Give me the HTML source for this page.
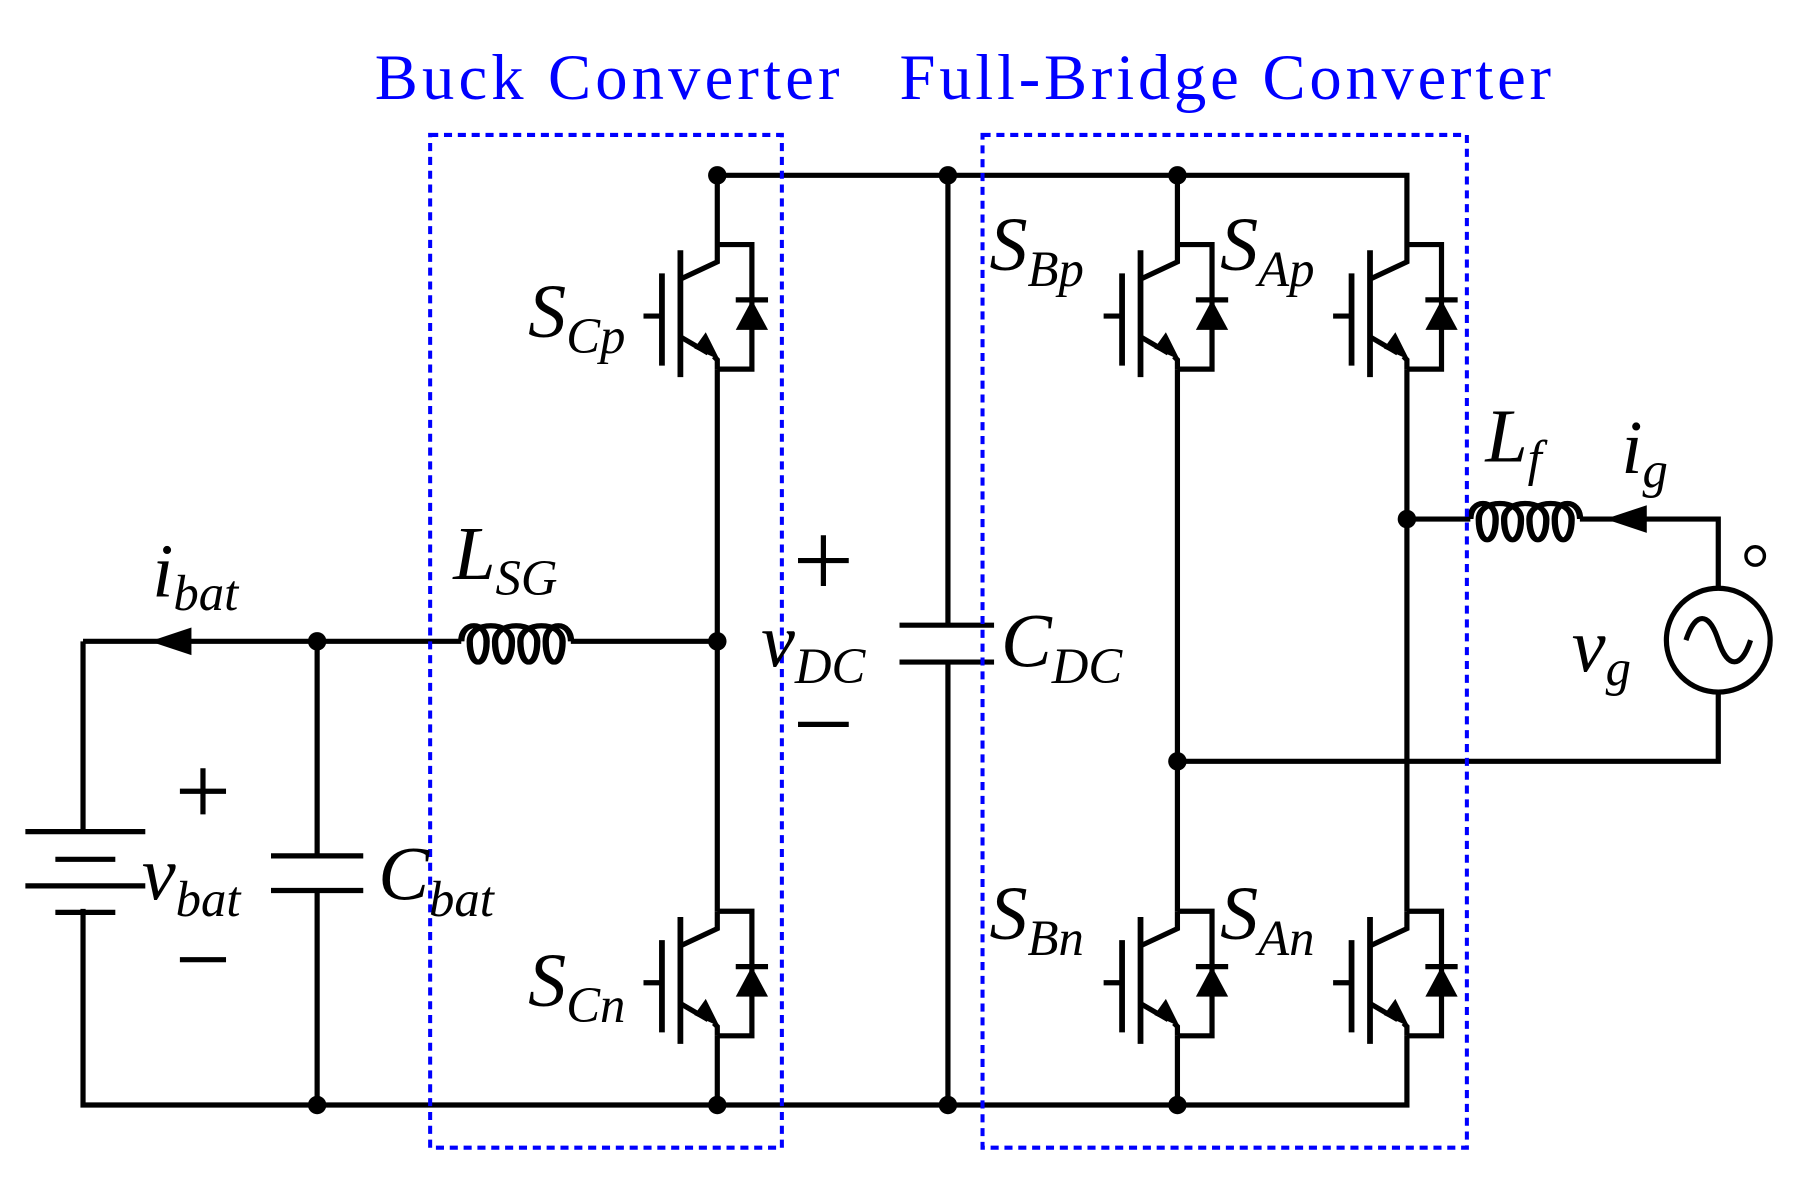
<!DOCTYPE html>
<html><head><meta charset="utf-8"><style>
html,body{margin:0;padding:0;background:#fff;}
svg{display:block;}
text{font-family:"Liberation Serif",serif;}
.l{font-style:italic;fill:#000;}
</style></head><body>
<svg width="1799" height="1180" viewBox="0 0 1560 1023" preserveAspectRatio="none" xmlns="http://www.w3.org/2000/svg">
<defs>
<g id="sw" stroke="#000" stroke-width="4.5" fill="none">
  <path d="M0,0 V15 L-32,30"/>
  <path d="M-32,80 L-8,94"/>
  <polygon points="2,100 -20,90 -10,76" fill="#000" stroke="none"/>
  <path d="M-3,97 L0,100 V108"/>
  <line x1="-32" y1="5" x2="-32" y2="115" stroke-width="5"/>
  <line x1="-48" y1="25" x2="-48" y2="105" stroke-width="5"/>
  <line x1="-64" y1="62" x2="-48" y2="62"/>
  <path d="M0,0 H30 V108 H0"/>
  <line x1="16" y1="48" x2="44" y2="48"/>
  <polygon points="30,48 16,74 44,74" fill="#000" stroke="none"/>
</g>
<g id="coil" fill="none" stroke="#000" stroke-width="4.5">
  <path d="M0,0 C0,-18 18,-18 18,0 C18,24 6,24 6,0 C6,-18 36,-18 36,0 C36,24 24,24 24,0 C24,-18 54,-18 54,0 C54,24 42,24 42,0 C42,-18 72,-18 72,0 C72,24 60,24 60,0 C60,-18 78,-18 78,0"/>
</g>
</defs>
<g stroke="#000" stroke-width="4.5" fill="none">
  <path d="M622,152 H1220 V212"/>
  <path d="M72,556 V721"/><path d="M72,788 V958 H1220 V898"/>
  <path d="M72,556 H400"/><path d="M495,556 H622"/>
  <path d="M622,152 V212"/><path d="M622,320 V790"/><path d="M622,898 V958"/>
  <path d="M1021,152 V212"/><path d="M1021,320 V790"/><path d="M1021,898 V958"/>
  <path d="M1220,320 V790"/>
  <path d="M275,556 V742"/><path d="M275,772 V958"/>
  <path d="M822,152 V542"/><path d="M822,574 V958"/>
  <path d="M1220,450 H1275"/><path d="M1370,450 H1490 V510"/><path d="M1490,600 V660 H1021"/>
  <line x1="22" y1="721" x2="126" y2="721"/>
  <line x1="48" y1="745" x2="100" y2="745"/>
  <line x1="22" y1="768" x2="126" y2="768"/>
  <line x1="48" y1="791" x2="100" y2="791"/>
  <line x1="235" y1="742" x2="315" y2="742"/>
  <line x1="235" y1="772" x2="315" y2="772"/>
  <line x1="780" y1="542" x2="862" y2="542"/>
  <line x1="780" y1="574" x2="862" y2="574"/>
  <circle cx="1490" cy="555" r="45"/>
  <path d="M1462,555 C1470,530 1482,530 1490,555 C1498,580 1510,580 1518,555"/>
  <circle cx="1522" cy="482" r="8" stroke-width="3"/>
  <path d="M156,686 H196 M176,666 V706"/><line x1="156" y1="832" x2="196" y2="832"/>
  <path d="M692,486 H736 M714,464 V508"/><line x1="692" y1="628" x2="736" y2="628"/>
</g>
<use href="#coil" transform="translate(400,556) scale(1.22,1)"/>
<use href="#coil" transform="translate(1275,450) scale(1.22,1)"/>
<polygon points="130,556 166,544 166,568" fill="#000"/>
<polygon points="1392,450 1428,438 1428,462" fill="#000"/>
<use href="#sw" x="622" y="212"/>
<use href="#sw" x="622" y="790"/>
<use href="#sw" x="1021" y="212"/>
<use href="#sw" x="1220" y="212"/>
<use href="#sw" x="1021" y="790"/>
<use href="#sw" x="1220" y="790"/>
<g fill="#000">
  <circle cx="622" cy="152" r="8"/><circle cx="822" cy="152" r="8"/><circle cx="1021" cy="152" r="8"/>
  <circle cx="275" cy="556" r="8"/><circle cx="622" cy="556" r="8"/><circle cx="1220" cy="450" r="8"/>
  <circle cx="1021" cy="660" r="8"/>
  <circle cx="275" cy="958" r="8"/><circle cx="622" cy="958" r="8"/><circle cx="822" cy="958" r="8"/><circle cx="1021" cy="958" r="8"/>
</g>
<g fill="none" stroke="#0000ff" stroke-width="3.5" stroke-dasharray="7,5">
  <rect x="373" y="117" width="305" height="878"/>
  <rect x="852" y="117" width="420" height="878"/>
</g>
<g fill="#0000ff" font-size="56">
  <text x="325" y="86" textLength="403" lengthAdjust="spacing">Buck Converter</text>
  <text x="780" y="86" textLength="565" lengthAdjust="spacing">Full-Bridge Converter</text>
</g>
<g class="l">
  <text x="458" y="292" font-size="66">S<tspan font-size="44" dy="14">Cp</tspan></text>
  <text x="458" y="872" font-size="66">S<tspan font-size="44" dy="14">Cn</tspan></text>
  <text x="858" y="234" font-size="66">S<tspan font-size="44" dy="14">Bp</tspan></text>
  <text x="1058" y="234" font-size="66">S<tspan font-size="44" dy="14">Ap</tspan></text>
  <text x="858" y="814" font-size="66">S<tspan font-size="44" dy="14">Bn</tspan></text>
  <text x="1058" y="814" font-size="66">S<tspan font-size="44" dy="14">An</tspan></text>
  <text x="393" y="502" font-size="66">L<tspan font-size="44" dy="14">SG</tspan></text>
  <text x="132" y="517" font-size="66">i<tspan font-size="44" dy="12">bat</tspan></text>
  <text x="123" y="780" font-size="66">v<tspan font-size="44" dy="14">bat</tspan></text>
  <text x="328" y="780" font-size="66">C<tspan font-size="44" dy="14">bat</tspan></text>
  <text x="660" y="578" font-size="66">v<tspan font-size="44" dy="14">DC</tspan></text>
  <text x="868" y="578" font-size="66">C<tspan font-size="44" dy="14">DC</tspan></text>
  <text x="1288" y="400" font-size="66">L<tspan font-size="44" dy="12">f</tspan></text>
  <text x="1406" y="410" font-size="66">i<tspan font-size="44" dy="12">g</tspan></text>
  <text x="1363" y="582" font-size="66">v<tspan font-size="44" dy="12">g</tspan></text>
</g>
</svg>
</body></html>
